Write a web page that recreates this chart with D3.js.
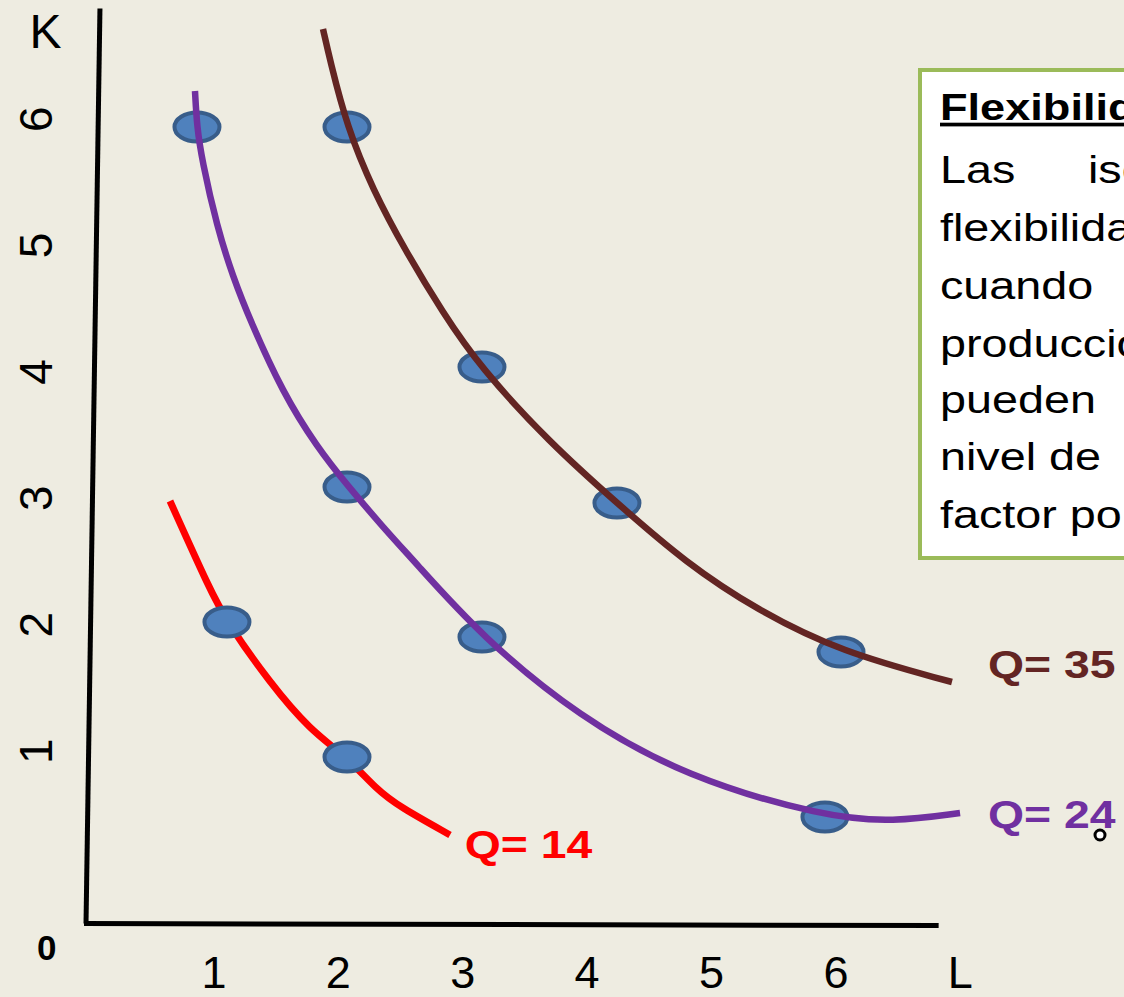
<!DOCTYPE html>
<html>
<head>
<meta charset="utf-8">
<script src="https://cdn.jsdelivr.net/npm/d3@7"></script>
<style>
  html, body { margin: 0; padding: 0; background: #EEECE1; overflow: hidden; }
  svg { display: block; }
</style>
</head>
<body>
<div id="container"></div>
<script>
/* CONSTANTS AND GLOBALS */
const width = 1124,
      height = 997,
      font = "'Liberation Sans', Arial, sans-serif";

/* DATA (L = trabajo, K = capital) */
const xTickValues = [1, 2, 3, 4, 5, 6, 7];
const xTickLabels = ["1", "2", "3", "4", "5", "6", "L"];
const yTickValues = [1, 2, 3, 4, 5, 6];

// isocuanta Q = 14
const q14Curve = [[0.651, 2.943], [0.973, 2.239], [1.109, 1.986], [1.455, 1.503], [1.777, 1.131],
                  [2.074, 0.918], [2.315, 0.657], [2.500, 0.522], [2.902, 0.301]];
const q14Points = [[1.109, 1.986], [2.074, 0.918]];

// isocuanta Q = 24
const q24Curve = [[0.852, 6.187], [0.868, 5.902], [0.908, 5.641], [1.029, 5.111], [1.158, 4.715],
                  [1.294, 4.375], [1.559, 3.797], [1.833, 3.370], [2.074, 3.070], [2.363, 2.737],
                  [2.605, 2.476], [3.159, 1.867], [3.939, 1.234], [4.799, 0.759], [5.916, 0.443],
                  [6.463, 0.403], [7.002, 0.475]];
const q24Points = [[0.868, 5.902], [2.074, 3.054], [3.159, 1.867], [5.916, 0.443]];

// isocuanta Q = 35
const q35Curve = [[1.881, 6.677], [1.937, 6.432], [2.074, 5.902], [2.283, 5.403], [2.540, 4.929],
                  [2.846, 4.430], [3.143, 4.003], [3.706, 3.402], [4.244, 2.927], [4.799, 2.453],
                  [5.370, 2.081], [6.045, 1.748], [6.937, 1.511]];
const q35Points = [[2.074, 5.902], [3.159, 4.003], [4.244, 2.927], [6.045, 1.748]];

const qLabels = ["Q= 14", "Q= 24", "Q= 35"];
const qLabelPos = [[3.02, 0.119], [7.227, 0.356], [7.227, 1.543]];
const qColors = ["#FF0000", "#7030A0", "#632523"];

const boxTitle = "Flexibilidad";
const boxLines = [["Las", "isocuantas"], ["flexibilidad"], ["cuando"], ["producción"],
                  ["pueden"], ["nivel de"], ["factor por"]];

/* SCALES */
const xScale = d3.scaleLinear().domain([0, 7]).range([89, 89 + 7 * 124.4]);
const yScale = d3.scaleLinear().domain([0, 6]).range([873, 873 - 6 * 126.4]);

const svg = d3.select("#container")
  .append("svg")
  .attr("width", width)
  .attr("height", height)
  .style("font-family", font);

svg.append("rect")
  .attr("width", width).attr("height", height)
  .attr("fill", "#EEECE1");

/* AXES (hand drawn look, the vertical one leans a bit) */
const axisY = yScale(-0.4);
svg.append("line")
  .attr("x1", xScale(0.088)).attr("y1", yScale(6.84))
  .attr("x2", xScale(-0.024)).attr("y2", axisY)
  .attr("stroke", "#000").attr("stroke-width", 5);
svg.append("line")
  .attr("x1", xScale(-0.04)).attr("y1", axisY)
  .attr("x2", xScale(6.83)).attr("y2", axisY + 2)
  .attr("stroke", "#000").attr("stroke-width", 5);

// tick labels through d3 axes, no ticks and no domain line
const xAxis = d3.axisBottom(xScale)
  .tickValues(xTickValues)
  .tickFormat((d, i) => xTickLabels[i])
  .tickSize(0)
  .tickPadding(8);

svg.append("g")
  .attr("transform", `translate(0,${948})`)
  .call(xAxis)
  .call(g => g.select(".domain").remove())
  .call(g => g.selectAll("text")
    .attr("font-size", 45)
    .attr("font-family", font)
    .attr("fill", "#000"));

const yAxis = d3.axisLeft(yScale)
  .tickValues(yTickValues)
  .tickFormat(d3.format("d"))
  .tickSize(0);

svg.append("g")
  .call(yAxis)
  .call(g => g.select(".domain").remove())
  .call(g => g.selectAll("text")
    .attr("x", 0)
    .attr("dy", 0)
    .attr("text-anchor", "middle")
    .attr("transform", "translate(52,4) rotate(-90)")
    .attr("font-size", 46)
    .attr("font-family", font)
    .attr("fill", "#000"));

svg.append("text")
  .attr("x", xScale(-0.35)).attr("y", yScale(6.53))
  .attr("text-anchor", "middle")
  .attr("font-size", 48)
  .text("K");

svg.append("text")
  .attr("x", xScale(-0.34)).attr("y", yScale(-0.69))
  .attr("text-anchor", "middle")
  .attr("font-size", 35)
  .attr("font-weight", "bold")
  .text("0");

/* CURVES AND POINTS */
const line = d3.line()
  .x(d => xScale(d[0]))
  .y(d => yScale(d[1]))
  .curve(d3.curveBasis);

function drawCurve(data, color, w) {
  svg.append("path")
    .datum(data)
    .attr("d", line)
    .attr("fill", "none")
    .attr("stroke", color)
    .attr("stroke-width", w);
}

function drawPoints(data) {
  svg.append("g")
    .selectAll("ellipse")
    .data(data)
    .join("ellipse")
    .attr("cx", d => xScale(d[0]))
    .attr("cy", d => yScale(d[1]))
    .attr("rx", 22.5)
    .attr("ry", 14.5)
    .attr("fill", "#4F81BD")
    .attr("stroke", "#385D8A")
    .attr("stroke-width", 4);
}

// red curve sits under its points, the other two go over them
drawCurve(q14Curve, qColors[0], 7);
drawPoints(q14Points);
drawPoints(q24Points);
drawPoints(q35Points);
drawCurve(q24Curve, qColors[1], 6.5);
drawCurve(q35Curve, qColors[2], 6.5);

// Q labels, the slide text is a little wide so stretch it
svg.append("g")
  .selectAll("text")
  .data(qLabels)
  .join("text")
  .attr("transform", (d, i) => `translate(${xScale(qLabelPos[i][0])},${yScale(qLabelPos[i][1])}) scale(1.22,1)`)
  .attr("font-size", 38)
  .attr("font-weight", "bold")
  .attr("fill", (d, i) => qColors[i])
  .text(d => d);

// little stray bullet next to Q= 24
svg.append("circle")
  .attr("cx", 1100).attr("cy", 835)
  .attr("r", 5)
  .attr("fill", "#fff")
  .attr("stroke", "#000")
  .attr("stroke-width", 3);

/* TEXT BOX (cut by the right edge) */
const box = svg.append("g");
box.append("rect")
  .attr("x", 920).attr("y", 70)
  .attr("width", 260).attr("height", 488)
  .attr("fill", "#fff")
  .attr("stroke", "#9BBB59")
  .attr("stroke-width", 4);

box.append("text")
  .attr("transform", "translate(940,120) scale(1.22,1)")
  .attr("font-size", 37)
  .attr("font-weight", "bold")
  .attr("text-decoration", "underline")
  .text(boxTitle);

const lineY = [183, 241, 299, 357, 413, 470, 528];
box.selectAll("text.body")
  .data(boxLines)
  .join("text")
  .attr("class", "body")
  .attr("transform", (d, i) => `translate(940,${lineY[i]}) scale(1.23,1)`)
  .attr("font-size", 38)
  .each(function(d) {
    const t = d3.select(this);
    d.forEach((w, j) => {
      t.append("tspan")
        .attr("x", j === 0 ? 0 : (1088 - 940) / 1.23)
        .text(w);
    });
  });
</script>
</body>
</html>
